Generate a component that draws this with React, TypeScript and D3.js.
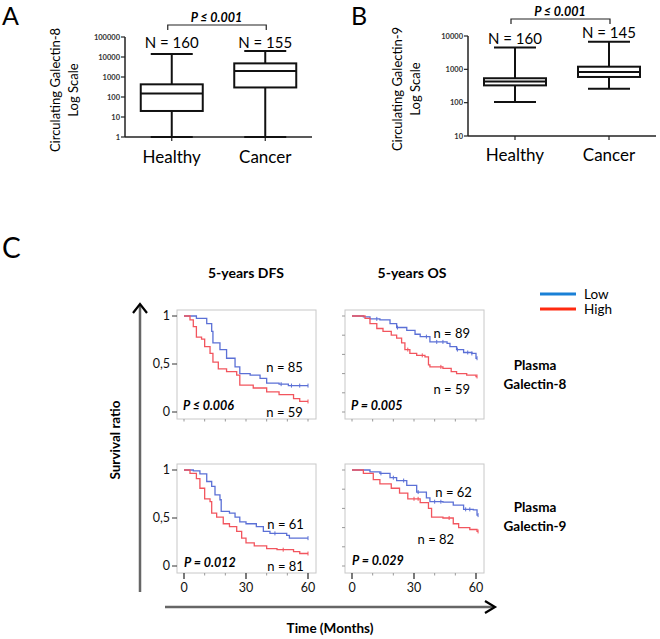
import React from 'react';
import * as d3 from 'd3';

// ---- panel A / B : box plots ----
const groups = ['Healthy', 'Cancer'];
// [min, Q1, median, Q3, max]
const gal8Healthy = [1, 20, 150, 430, 14000];
const gal8Cancer = [1, 300, 2000, 4800, 20000];
const gal9Healthy = [105, 330, 430, 540, 4500];
const gal9Cancer = [260, 590, 830, 1200, 6700];
const gal8N = [160, 155];
const gal9N = [160, 145];
const gal8Ticks = [1, 10, 100, 1000, 10000, 100000];
const gal9Ticks = [10, 100, 1000, 10000];

// ---- panel C : Kaplan-Meier steps [month, survival] ----
const dfs8Low: [number, number][] = [[0, 1], [6, 0.975], [11, 0.92], [13.4, 0.84], [14, 0.72], [17.4, 0.65], [20.6, 0.56], [24.7, 0.47], [27, 0.4], [32, 0.385], [36.8, 0.35], [40, 0.3], [46, 0.29], [50.5, 0.275], [60, 0.275]];
const dfs8High: [number, number][] = [[0, 1], [2.9, 0.96], [4.5, 0.89], [6, 0.78], [8.5, 0.76], [10, 0.68], [12.6, 0.61], [14, 0.52], [16.6, 0.45], [20.6, 0.42], [25.5, 0.385], [27, 0.28], [33.5, 0.25], [40, 0.21], [46, 0.18], [53, 0.14], [56, 0.11], [60, 0.11]];
const os8Low: [number, number][] = [[0, 1], [5.5, 0.99], [8.7, 0.97], [13.5, 0.96], [18.4, 0.92], [21.6, 0.88], [26.5, 0.85], [30.5, 0.81], [33, 0.785], [37.7, 0.73], [46, 0.715], [47.4, 0.68], [50.6, 0.65], [54, 0.62], [58, 0.61], [60, 0.56], [60.5, 0.56]];
const os8High: [number, number][] = [[0, 1], [6.3, 0.975], [8.7, 0.92], [12, 0.87], [15, 0.84], [19, 0.8], [21.6, 0.77], [24, 0.72], [25.6, 0.65], [28, 0.61], [31.3, 0.59], [35.3, 0.575], [37, 0.49], [37.7, 0.47], [44, 0.455], [48, 0.42], [50.6, 0.4], [55.5, 0.385], [60, 0.37], [60.5, 0.37]];
const dfs9Low: [number, number][] = [[0, 1], [4.5, 0.99], [7.7, 0.96], [11, 0.88], [13.4, 0.83], [15, 0.74], [17.4, 0.69], [18, 0.57], [22, 0.55], [24.7, 0.51], [27, 0.46], [30, 0.44], [35, 0.41], [38.4, 0.36], [41.6, 0.34], [49.7, 0.32], [51, 0.29], [60, 0.29]];
const dfs9High: [number, number][] = [[0, 1], [2.9, 0.965], [6, 0.91], [7.7, 0.81], [10, 0.7], [12.6, 0.67], [13.4, 0.55], [15.8, 0.51], [19, 0.44], [22, 0.41], [25.5, 0.36], [27.9, 0.29], [30, 0.24], [34, 0.21], [40, 0.18], [45, 0.17], [53, 0.15], [56, 0.13], [60, 0.13]];
const os9Low: [number, number][] = [[0, 1], [8.7, 0.98], [13.5, 0.965], [18.4, 0.92], [21.6, 0.89], [26.5, 0.84], [31.3, 0.77], [36, 0.71], [37.7, 0.67], [44, 0.665], [49, 0.635], [54, 0.59], [58.7, 0.585], [60.5, 0.53], [61, 0.53]];
const os9High: [number, number][] = [[0, 1], [5.5, 0.965], [10.3, 0.9], [13.5, 0.855], [19, 0.81], [23, 0.76], [27, 0.7], [33, 0.66], [37, 0.6], [38.5, 0.51], [44, 0.5], [49, 0.44], [51.6, 0.4], [57, 0.38], [60.5, 0.36], [61, 0.36]];

const dfs8LowCensor = [47, 52, 56, 60];
const dfs8HighCensor = [60];
const os8LowCensor = [12, 22, 36, 41, 44, 51, 56, 58, 60.5];
const os8HighCensor = [27, 34, 43, 60.5];
const dfs9LowCensor = [44, 60];
const dfs9HighCensor = [48, 60];
const os9LowCensor = [14, 20, 25, 32, 40, 43, 55, 57, 61];
const os9HighCensor = [30, 32, 47, 61];

const font = 'Lato, "Open Sans", sans-serif';
const blueKM = '#5b70d6';
const redKM = '#f2555e';

type BoxProps = {
  x0: number; x1: number; yTop: number; yBot: number;
  domain: [number, number]; ticks: number[];
  stats: number[][]; ns: number[]; nY: number[];
  bracketY: number; label: string;
  labelX: number[]; catY: number; letter: string; letterX: number;
};

const BoxPanel = (p: BoxProps) => {
  const y = d3.scaleLog().domain(p.domain).range([p.yBot, p.yTop]);
  const x = d3.scalePoint<string>().domain(groups).range([p.x0, p.x1]).padding(0.5);
  const bw = 62;
  const cx = groups.map(g => x(g) as number);
  return (
    <g fontFamily={font}>
      <text x={p.letterX} y={25} fontSize={25}>{p.letter}</text>
      {/* axes */}
      <line x1={p.x0} x2={p.x0} y1={p.yTop} y2={p.yBot} stroke="#222" strokeWidth={1.5} />
      <line x1={p.x0} x2={p.x1} y1={p.yBot} y2={p.yBot} stroke="#222" strokeWidth={1.5} />
      {p.ticks.map(t => (
        <g key={t}>
          <line x1={p.x0 - 4} x2={p.x0} y1={y(t)} y2={y(t)} stroke="#222" strokeWidth={1.2} />
          <text x={p.x0 - 5} y={y(t)} dy="0.35em" textAnchor="end" fontSize={7.5} fontWeight="bold" fill="#333">{t}</text>
        </g>
      ))}
      {cx.map(c => <line key={c} x1={c} x2={c} y1={p.yBot} y2={p.yBot + 4} stroke="#222" strokeWidth={1.2} />)}
      {/* boxes */}
      {p.stats.map((s, i) => (
        <g key={i} stroke="#111" strokeWidth={2} fill="none">
          <line x1={cx[i]} x2={cx[i]} y1={y(s[0])} y2={y(s[1])} />
          <line x1={cx[i]} x2={cx[i]} y1={y(s[3])} y2={y(s[4])} />
          <line x1={cx[i] - bw / 2 + 10} x2={cx[i] + bw / 2 - 10} y1={y(s[4])} y2={y(s[4])} />
          <line x1={cx[i] - bw / 2 + 10} x2={cx[i] + bw / 2 - 10} y1={y(s[0])} y2={y(s[0])} />
          <rect x={cx[i] - bw / 2} width={bw} y={y(s[3])} height={y(s[1]) - y(s[3])} fill="#fff" />
          <line x1={cx[i] - bw / 2} x2={cx[i] + bw / 2} y1={y(s[2])} y2={y(s[2])} />
        </g>
      ))}
      {p.ns.map((n, i) => (
        <text key={i} x={cx[i]} y={p.nY[i]} dy="0.35em" textAnchor="middle" fontSize={15}>N = {n}</text>
      ))}
      {groups.map((g, i) => (
        <text key={g} x={cx[i]} y={p.catY} dy="0.35em" textAnchor="middle" fontSize={17}>{g}</text>
      ))}
      {/* significance bracket */}
      <path d={`M${cx[0] - 4},${p.bracketY + 5}V${p.bracketY}H${cx[1] + 1}V${p.bracketY + 5}`} fill="none" stroke="#222" strokeWidth={1.2} />
      <text x={(cx[0] + cx[1]) / 2 - 2} y={p.bracketY - 3.5} textAnchor="middle" fontSize={12.5} fontWeight="bold" fontStyle="italic">P ≤ 0.001</text>
      <g transform={`translate(${p.labelX[0]},${(p.yTop + p.yBot) / 2 + 3}) rotate(-90)`}>
        <text textAnchor="middle" dy="0.35em" fontSize={13}>{p.label}</text>
      </g>
      <g transform={`translate(${p.labelX[1]},${(p.yTop + p.yBot) / 2 + 3}) rotate(-90)`}>
        <text textAnchor="middle" dy="0.35em" fontSize={13}>Log Scale</text>
      </g>
    </g>
  );
};

type KMProps = {
  x0: number; yTop: number;
  low: [number, number][]; high: [number, number][];
  lowC: number[]; highC: number[];
  dfs: boolean; bottom: boolean;
  nLow: string; nHigh: string; pText: string;
  nLowPos: [number, number]; nHighPos: [number, number]; pPos: [number, number];
};

const KMPanel = (p: KMProps) => {
  const x = d3.scaleLinear().domain([0, 60]).range([p.x0, p.x0 + 124]);
  const y = d3.scaleLinear().domain([0, 1]).range([p.yTop + 96, p.yTop]);
  const line = d3.line<[number, number]>().x(d => x(d[0])).y(d => y(d[1])).curve(d3.curveStepAfter);
  const bis = d3.bisector((d: [number, number]) => d[0]).right;
  const at = (data: [number, number][], t: number) => data[Math.max(0, bis(data, t) - 1)][1];
  const fl = x(0) - 7, fr = x(60) + 8, ft = y(1) - 6, fb = y(0) + 7;
  const yTicks = p.dfs ? [0, 0.5, 1] : [0, 0.2, 0.4, 0.6, 0.8, 1];
  const xTicks = [0, 10, 20, 30, 40, 50, 60];
  return (
    <g fontFamily={font}>
      <rect x={fl} y={ft} width={fr - fl} height={fb - ft} fill="#fff" stroke="#c8c8c8" strokeWidth={1} />
      {yTicks.map(t => (
        <g key={t}>
          <line x1={fl - (p.dfs ? 5 : 3)} x2={fl} y1={y(t)} y2={y(t)} stroke={p.dfs ? '#333' : '#999'} strokeWidth={1} />
          {p.dfs && <text x={fl - 7} y={y(t)} dy="0.35em" textAnchor="end" fontSize={12.5} fill="#111">{t === 0.5 ? '0,5' : t}</text>}
        </g>
      ))}
      {xTicks.map(t => {
        const major = p.bottom && t % 30 === 0;
        return (
          <g key={t}>
            <line x1={x(t)} x2={x(t)} y1={fb} y2={fb + (major ? 6 : 2.5)} stroke={major ? '#333' : '#999'} strokeWidth={major ? 1.3 : 1} />
            {major && <text x={x(t)} y={fb + 15} dy="0.35em" textAnchor="middle" fontSize={12.5} fill="#111">{t}</text>}
          </g>
        );
      })}
      <path d={line(p.low) as string} fill="none" stroke={blueKM} strokeWidth={1.3} />
      <path d={line(p.high) as string} fill="none" stroke={redKM} strokeWidth={1.3} />
      {p.lowC.map(t => <line key={'l' + t} x1={x(t)} x2={x(t)} y1={y(at(p.low, t)) - 2} y2={y(at(p.low, t)) + 2} stroke={blueKM} strokeWidth={1} />)}
      {p.highC.map(t => <line key={'h' + t} x1={x(t)} x2={x(t)} y1={y(at(p.high, t)) - 2} y2={y(at(p.high, t)) + 2} stroke={redKM} strokeWidth={1} />)}
      <text x={x(p.nLowPos[0])} y={y(p.nLowPos[1])} dy="0.35em" textAnchor="end" fontSize={13}>{p.nLow}</text>
      <text x={x(p.nHighPos[0])} y={y(p.nHighPos[1])} dy="0.35em" textAnchor="end" fontSize={13}>{p.nHigh}</text>
      <text x={x(p.pPos[0])} y={y(p.pPos[1])} dy="0.35em" fontSize={12.5} fontWeight="bold" fontStyle="italic">{p.pText}</text>
    </g>
  );
};

const App = () => {
  return (
    <svg width={660} height={639} style={{ position: 'absolute', left: 0, top: 0, background: '#fff' }}>
      <BoxPanel x0={125} x1={312} yTop={37} yBot={137} domain={[1, 100000]} ticks={gal8Ticks}
        stats={[gal8Healthy, gal8Cancer]} ns={gal8N} nY={[43, 43]} bracketY={25}
        label="Circulating Galectin-8" labelX={[55, 73]} catY={157} letter="A" letterX={2} />
      <BoxPanel x0={468} x1={656} yTop={36} yBot={136} domain={[10, 10000]} ticks={gal9Ticks}
        stats={[gal9Healthy, gal9Cancer]} ns={gal9N} nY={[39, 33]} bracketY={19}
        label="Circulating Galectin-9" labelX={[397, 415]} catY={155} letter="B" letterX={351} />

      <g fontFamily={font}>
        <text x={2} y={258} fontSize={28}>C</text>
        <text x={246} y={273} dy="0.35em" textAnchor="middle" fontSize={14} fontWeight="bold">5-years DFS</text>
        <text x={412} y={273} dy="0.35em" textAnchor="middle" fontSize={14} fontWeight="bold">5-years OS</text>
        {/* legend */}
        <line x1={540} x2={576} y1={294} y2={294} stroke="#1a80d6" strokeWidth={3.2} />
        <line x1={540} x2={576} y1={309} y2={309} stroke="#ff2a10" strokeWidth={3.2} />
        <text x={584} y={294} dy="0.35em" fontSize={13.5}>Low</text>
        <text x={584} y={309} dy="0.35em" fontSize={13.5}>High</text>
        <text x={535} y={365} dy="0.35em" textAnchor="middle" fontSize={13.5} fontWeight="bold">Plasma</text>
        <text x={535} y={384} dy="0.35em" textAnchor="middle" fontSize={13.5} fontWeight="bold">Galectin-8</text>
        <text x={535} y={507} dy="0.35em" textAnchor="middle" fontSize={13.5} fontWeight="bold">Plasma</text>
        <text x={535} y={526} dy="0.35em" textAnchor="middle" fontSize={13.5} fontWeight="bold">Galectin-9</text>
        {/* survival axis arrow */}
        <line x1={140} x2={140} y1={592} y2={306} stroke="#666" strokeWidth={2.5} />
        <polyline points="133,313 140,304 147,313" fill="none" stroke="#000" strokeWidth={2.2} />
        <g transform="translate(115,440) rotate(-90)">
          <text textAnchor="middle" dy="0.35em" fontSize={13.5} fontWeight="bold">Survival ratio</text>
        </g>
        {/* time axis arrow */}
        <line x1={165} x2={494} y1={607} y2={607} stroke="#666" strokeWidth={2.5} />
        <polyline points="485,601 495,607 485,613" fill="none" stroke="#000" strokeWidth={2.2} />
        <text x={330} y={628} dy="0.35em" textAnchor="middle" fontSize={13.5} fontWeight="bold">Time (Months)</text>
      </g>

      <KMPanel x0={184} yTop={316} low={dfs8Low} high={dfs8High} lowC={dfs8LowCensor} highC={dfs8HighCensor}
        dfs bottom={false} nLow="n = 85" nHigh="n = 59" pText="P ≤ 0.006"
        nLowPos={[57.5, 0.46]} nHighPos={[57.5, 0]} pPos={[-0.5, 0.07]} />
      <KMPanel x0={352} yTop={316} low={os8Low} high={os8High} lowC={os8LowCensor} highC={os8HighCensor}
        dfs={false} bottom={false} nLow="n = 89" nHigh="n = 59" pText="P = 0.005"
        nLowPos={[57.1, 0.82]} nHighPos={[57.1, 0.24]} pPos={[-0.5, 0.07]} />
      <KMPanel x0={184} yTop={470} low={dfs9Low} high={dfs9High} lowC={dfs9LowCensor} highC={dfs9HighCensor}
        dfs bottom nLow="n = 61" nHigh="n = 81" pText="P = 0.012"
        nLowPos={[58, 0.43]} nHighPos={[58, 0]} pPos={[0, 0.04]} />
      <KMPanel x0={352} yTop={470} low={os9Low} high={os9High} lowC={os9LowCensor} highC={os9HighCensor}
        dfs={false} bottom nLow="n = 62" nHigh="n = 82" pText="P = 0.029"
        nLowPos={[58, 0.77]} nHighPos={[49.4, 0.28]} pPos={[0, 0.06]} />
    </svg>
  );
};

export default App;
